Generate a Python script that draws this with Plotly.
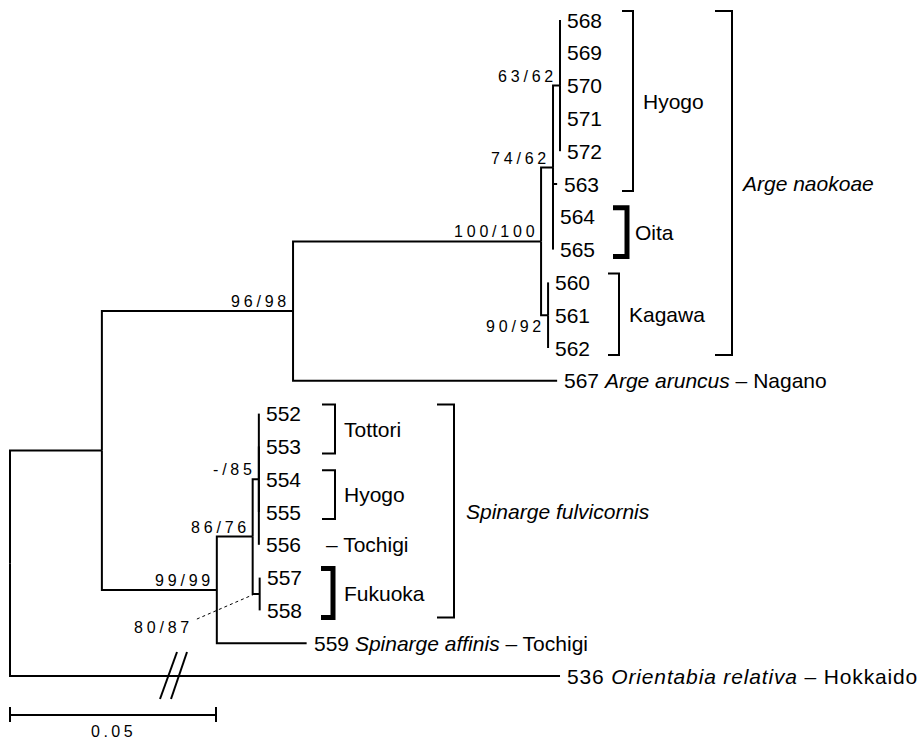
import plotly.graph_objects as go

# ---------------- data ----------------
NODE_NAMES = ["root", "A", "B", "ArgeN", "N74", "N63", "Kagawa", "S99", "S86", "S85", "S80",
              "568", "569", "570", "571", "572", "563", "564", "565", "560", "561", "562", "567",
              "552", "553", "554", "555", "556", "557", "558", "559", "536"]
NODE_PARENTS = [None, "root", "A", "B", "ArgeN", "N74", "ArgeN", "A", "S99", "S86", "S86",
                "N63", "N63", "N63", "N63", "N63", "N74", "N74", "N74", "Kagawa", "Kagawa", "Kagawa", "B",
                "S85", "S85", "S85", "S85", "S85", "S80", "S80", "S99", "root"]
BRANCH_LENGTHS = [0.0, 0.0223, 0.0464, 0.0602, 0.0029, 0.0017, 0.0017, 0.0279, 0.0087, 0.0015, 0.0017,
                  0.0, 0.0, 0.0, 0.0, 0.0, 0.0010, 0.0, 0.0, 0.0, 0.0, 0.0, 0.0641,
                  0.0, 0.0, 0.0, 0.0, 0.0, 0.0, 0.0, 0.0218, 0.1335]

LEAF_LABELS = {
    "567": "567 <i>Arge aruncus</i> – Nagano",
    "559": "559 <i>Spinarge affinis</i> – Tochigi",
    "536": "536 <i>Orientabia relativa</i> – Hokkaido",
}

SUPPORT_NODES = ["N63", "N74", "ArgeN", "Kagawa", "B", "S85", "S86", "S99", "S80"]
SUPPORT_TEXT = ["63/62", "74/62", "100/100", "90/92", "96/98", "-/85", "86/76", "99/99", "80/87"]

GROUP_LABELS = ["Hyogo", "Oita", "Kagawa", "<i>Arge naokoae</i>",
                "Tottori", "Hyogo", "Fukuoka", "<i>Spinarge fulvicornis</i>"]
GROUP_FIRST = ["568", "564", "560", "568", "552", "554", "557", "552"]
GROUP_LAST = ["563", "565", "562", "562", "553", "555", "558", "558"]
SINGLE_LABELS = ["– Tochigi"]
SINGLE_LEAVES = ["556"]

SCALE_LENGTH = 0.05
SCALE_LABEL = "0.05"

# ---------------- style ----------------
W, H = 920, 739
PX_PER_UNIT = 4120.0
PX_PER_LEAF = 32.8
X0_PX, Y0_PX = 10, 20
LINE_W = 2
FONT = "Liberation Sans, Arial, sans-serif"
LEAF_SIZE = 21
OUTGROUP_SPACING = "letter-spacing:0.85px"
SUP_SIZE = 16
SPACING = "letter-spacing:3.8px"

BRACKET_X_PX = [633, 627, 619, 732, 335, 335, 333, 454]
BRACKET_TICK_PX = [11, 14, 11, 17, 13, 13, 12, 17]
BRACKET_W = [2, 5, 2, 2, 2, 2, 5, 2]
BRACKET_LABEL_GAP = [9, 7, 9, 8, 8, 8, 10, 11]
SINGLE_X_PX = [325]
SUPPORT_POS = ["above", "above", "above", "below", "above", "above", "above", "above", "leader"]
BREAK_X_PX = 168
BREAK_SLASHES = [(-8, 23, 9, -24), (3, 23, 19, -24)]


def dx(px):
    return px / PX_PER_UNIT


def dy(px):
    return px / PX_PER_LEAF


def xabs(px):
    return (px - X0_PX) / PX_PER_UNIT


parent = dict(zip(NODE_NAMES, NODE_PARENTS))
blen = dict(zip(NODE_NAMES, BRANCH_LENGTHS))
children = {n: [] for n in NODE_NAMES}
for n, p in zip(NODE_NAMES, NODE_PARENTS):
    if p is not None:
        children[p].append(n)

xpos = {}


def set_x(n, base):
    xpos[n] = base + blen[n]
    for c in children[n]:
        set_x(c, xpos[n])


set_x("root", 0.0)

ypos = {}
leaves = []


def set_y(n):
    if not children[n]:
        ypos[n] = len(leaves)
        leaves.append(n)
    else:
        for c in children[n]:
            set_y(c)
        ys = [ypos[c] for c in children[n]]
        ypos[n] = (min(ys) + max(ys)) / 2


set_y("root")

fig = go.Figure()

# tree branches
tx, ty = [], []
for n in NODE_NAMES:
    p = parent[n]
    if p is None:
        continue
    tx += [xpos[p], xpos[p], xpos[n], None]
    ty += [ypos[p], ypos[n], ypos[n], None]
fig.add_trace(go.Scatter(x=tx, y=ty, mode="lines", line=dict(color="black", width=LINE_W),
                         hoverinfo="skip"))

annotations = []

# leaf labels
for lf in leaves:
    txt = LEAF_LABELS.get(lf, lf)
    if lf == "536":
        txt = '<span style="%s">%s</span>' % (OUTGROUP_SPACING, txt)
    annotations.append(dict(x=xpos[lf], y=ypos[lf], text=txt, xanchor="left",
                            yanchor="middle", xshift=6, showarrow=False, borderpad=0,
                            font=dict(family=FONT, size=LEAF_SIZE, color="black")))

# brackets
for i, lab in enumerate(GROUP_LABELS):
    y0 = ypos[GROUP_FIRST[i]] - dy(9)
    y1 = ypos[GROUP_LAST[i]] + dy(7)
    bx = xabs(BRACKET_X_PX[i])
    tk = bx - dx(BRACKET_TICK_PX[i])
    fig.add_trace(go.Scatter(x=[tk, bx, bx, tk], y=[y0, y0, y1, y1], mode="lines",
                             line=dict(color="black", width=BRACKET_W[i]), hoverinfo="skip"))
    annotations.append(dict(x=bx + dx(BRACKET_LABEL_GAP[i]), y=(y0 + y1) / 2, text=lab, xanchor="left",
                            yanchor="middle", showarrow=False, borderpad=0,
                            font=dict(family=FONT, size=LEAF_SIZE, color="black")))

for i, lab in enumerate(SINGLE_LABELS):
    annotations.append(dict(x=xabs(SINGLE_X_PX[i]), y=ypos[SINGLE_LEAVES[i]], text=lab, xanchor="left",
                            yanchor="middle", showarrow=False, borderpad=0,
                            font=dict(family=FONT, size=LEAF_SIZE, color="black")))

# support values
for nd, txt, pos in zip(SUPPORT_NODES, SUPPORT_TEXT, SUPPORT_POS):
    t = '<span style="%s">%s</span>' % (SPACING, txt)
    f = dict(family=FONT, size=SUP_SIZE, color="black")
    if pos == "above":
        annotations.append(dict(x=xpos[nd], y=ypos[nd], text=t, xanchor="right", yanchor="bottom",
                                xshift=-2, yshift=0, showarrow=False, borderpad=0, font=f))
    elif pos == "below":
        annotations.append(dict(x=xpos[nd], y=ypos[nd], text=t, xanchor="right", yanchor="top",
                                xshift=-2, yshift=-2, showarrow=False, borderpad=0, font=f))
    else:
        fig.add_shape(type="line", x0=xpos[nd] - dx(5), y0=ypos[nd], x1=xpos[nd] - dx(65),
                      y1=ypos[nd] + dy(26), line=dict(color="black", width=1, dash="dot"))
        annotations.append(dict(x=xpos[nd] - dx(66), y=ypos[nd] + dy(33), text=t, xanchor="right",
                                yanchor="middle", showarrow=False, borderpad=0, font=f))

# break marks on the outgroup branch
yb = ypos["536"]
for (a, b, c, d) in BREAK_SLASHES:
    fig.add_shape(type="line", x0=xabs(BREAK_X_PX + a), y0=yb + dy(b), x1=xabs(BREAK_X_PX + c),
                  y1=yb + dy(d), line=dict(color="black", width=2))

# scale bar
ys = ypos[leaves[-1]] + dy(39)
fig.add_trace(go.Scatter(x=[0, SCALE_LENGTH, None, 0, 0, None, SCALE_LENGTH, SCALE_LENGTH],
                         y=[ys, ys, None, ys - dy(8), ys + dy(7), None, ys - dy(8), ys + dy(7)],
                         mode="lines", line=dict(color="black", width=LINE_W), hoverinfo="skip"))
annotations.append(dict(x=SCALE_LENGTH / 2, y=ys + dy(16), text='<span style="letter-spacing:3.5px">%s</span>' % SCALE_LABEL,
                        xanchor="center", yanchor="middle", showarrow=False, borderpad=0,
                        font=dict(family=FONT, size=SUP_SIZE, color="black")))

fig.update_layout(
    width=W, height=H, margin=dict(l=0, r=0, t=0, b=0),
    paper_bgcolor="white", plot_bgcolor="white", showlegend=False,
    xaxis=dict(visible=False, range=[xabs(0), xabs(W)], fixedrange=True),
    yaxis=dict(visible=False, range=[(H - Y0_PX) / PX_PER_LEAF, -Y0_PX / PX_PER_LEAF], fixedrange=True),
    annotations=annotations,
)

fig.write_html("out.html", config={"displayModeBar": False},
               post_script="document.body.style.margin='0';document.body.style.overflow='hidden';")
